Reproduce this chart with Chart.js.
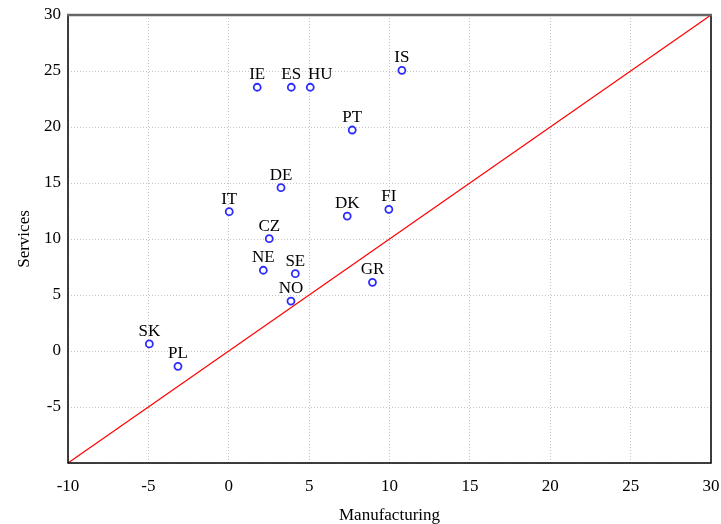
<!DOCTYPE html>
<html>
<head>
<meta charset="utf-8">
<script src="https://cdn.jsdelivr.net/npm/chart.js@4"></script>
<style>
  html, body { margin: 0; padding: 0; background: #fff; }
  #wrap { width: 721px; height: 524px; }
</style>
</head>
<body>
<div id="wrap"><canvas id="scatterChart" width="721" height="524"></canvas></div>
<script>
// country codes and values
const countries = ['IE', 'ES', 'HU', 'IS', 'PT', 'DE', 'IT', 'DK', 'FI', 'CZ', 'NE', 'SE', 'NO', 'GR', 'SK', 'PL'];
const manufacturing = [1.77, 3.89, 5.07, 10.77, 7.68, 3.25, 0.03, 7.37, 9.96, 2.52, 2.15, 4.14, 3.87, 8.94, -4.94, -3.16];
const services = [23.55, 23.55, 23.55, 25.06, 19.73, 14.58, 12.44, 12.05, 12.65, 10.03, 7.21, 6.90, 4.46, 6.13, 0.63, -1.37];
const diagonal = [-10, 30];
const axisMin = -10, axisMax = 30, tickStep = 5;

const serif = "'Liberation Serif', 'DejaVu Serif', serif";

const points = countries.map(function (c, i) {
    return { x: manufacturing[i], y: services[i] };
});

// labels above each point (HU is nudged right so it doesn't collide with ES)
const labelShift = { HU: 10 };
const pointLabels = {
    id: 'pointLabels',
    afterDatasetsDraw(chart) {
        const ctx = chart.ctx;
        const meta = chart.getDatasetMeta(0);
        ctx.save();
        ctx.font = '17px ' + serif;
        ctx.fillStyle = '#000';
        ctx.textAlign = 'center';
        ctx.textBaseline = 'alphabetic';
        meta.data.forEach(function (pt, i) {
            const dx = labelShift[countries[i]] || 0;
            ctx.fillText(countries[i], pt.x + dx, pt.y - 8);
        });
        ctx.restore();
    }
};

// frame: grey top, black other sides
const frame = {
    id: 'frame',
    afterDraw(chart) {
        const a = chart.chartArea;
        const ctx = chart.ctx;
        ctx.save();
        ctx.strokeStyle = '#000';
        ctx.lineWidth = 1.5;
        ctx.beginPath();
        ctx.moveTo(a.left, a.top);
        ctx.lineTo(a.left, a.bottom);
        ctx.lineTo(a.right, a.bottom);
        ctx.lineTo(a.right, a.top);
        ctx.stroke();
        ctx.strokeStyle = '#666';
        ctx.lineWidth = 2.5;
        ctx.beginPath();
        ctx.moveTo(a.left - 1, a.top);
        ctx.lineTo(a.right + 1, a.top);
        ctx.stroke();
        ctx.restore();
    }
};

const ctx = document.getElementById('scatterChart').getContext('2d');
new Chart(ctx, {
    type: 'scatter',
    data: {
        datasets: [{
            data: points,
            pointStyle: 'circle',
            pointRadius: 3.5,
            pointHoverRadius: 3.5,
            pointBorderWidth: 1.8,
            pointBorderColor: '#2b2bff',
            pointBackgroundColor: '#ffffff'
        }, {
            data: diagonal.map(function (v) { return { x: v, y: v }; }),
            showLine: true,
            borderColor: '#ff0000',
            borderWidth: 1.2,
            pointRadius: 0,
            order: 1
        }]
    },
    options: {
        responsive: false,
        animation: false,
        layout: { padding: { top: 15, right: 10, left: 0, bottom: 0 } },
        plugins: {
            legend: { display: false },
            tooltip: { enabled: false }
        },
        scales: {
            x: {
                type: 'linear',
                min: axisMin,
                max: axisMax,
                afterFit: function (scale) {
                    scale.height = 61;
                    scale.paddingLeft = 0;
                    scale.paddingRight = 0;
                },
                ticks: {
                    stepSize: tickStep,
                    padding: 13,
                    color: '#000',
                    font: { family: serif, size: 17 }
                },
                grid: { color: '#c4c4c4', lineWidth: 1, drawTicks: false },
                border: { display: false, dash: [1, 2] },
                title: {
                    display: true,
                    text: 'Manufacturing',
                    color: '#000',
                    font: { family: serif, size: 17, lineHeight: 1.0 },
                    padding: 0
                }
            },
            y: {
                type: 'linear',
                min: axisMin,
                max: axisMax,
                afterFit: function (scale) {
                    scale.width = 68;
                    scale.paddingTop = 0;
                    scale.paddingBottom = 0;
                },
                ticks: {
                    stepSize: tickStep,
                    padding: 7,
                    color: '#000',
                    font: { family: serif, size: 17 },
                    callback: function (v) { return v === axisMin ? '' : v; }
                },
                grid: { color: '#c4c4c4', lineWidth: 1, drawTicks: false },
                border: { display: false, dash: [1, 2] },
                title: {
                    display: true,
                    text: 'Services',
                    color: '#000',
                    font: { family: serif, size: 17 },
                    padding: 14
                }
            }
        }
    },
    plugins: [pointLabels, frame]
});
</script>
</body>
</html>
